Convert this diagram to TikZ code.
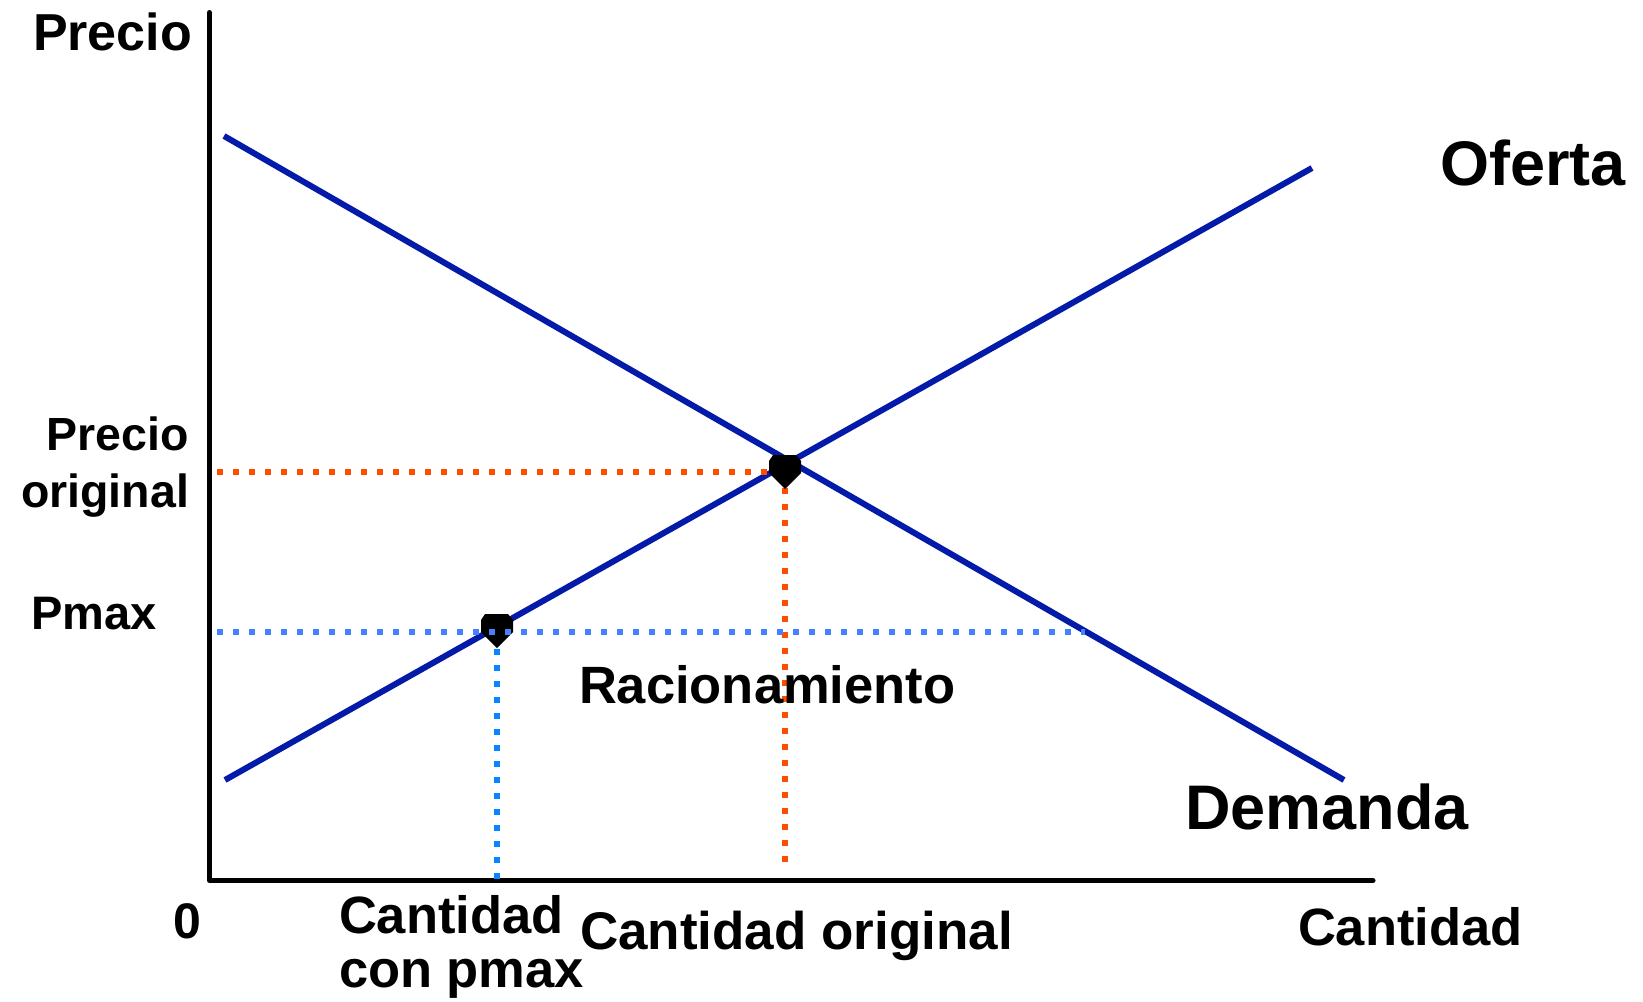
\documentclass[tikz,border=0pt]{standalone}
\usepackage{fontspec}
\setmainfont{Liberation Sans}
\definecolor{curveblue}{RGB}{4,26,168}
\definecolor{dotorange}{RGB}{255,76,0}
\definecolor{dotblueh}{RGB}{70,128,255}
\definecolor{dotbluev}{RGB}{10,132,255}
\tikzset{
  curve/.style={line width=6pt, color=curveblue, line cap=butt},
  axisline/.style={line width=5pt, black, line cap=round, line join=round},
  dotline/.style={line width=6pt, line cap=butt, dash pattern=on 6pt off 10pt},
  lbl/.style={inner sep=0pt, outer sep=0pt, text=black},
  pt/.style={inner sep=0pt, minimum size=0pt},
  mk/.pic={\fill[black] (-12,-17)--(11,-17)--(16,-11)--(16,1)--(0,17)--(-16,1)--(-16,-11)--cycle;}
}
\newcommand{\fsz}[2]{\bfseries\fontsize{#1}{#2}\selectfont}
\begin{document}
\begin{tikzpicture}[x=1pt,y=-1pt]
\useasboundingbox (0,0) rectangle (1643,1001);
\fill[white] (0,0) rectangle (1643,1001);

% coordinates
\coordinate (ytop) at (209.5,12.5);
\coordinate (origin) at (209.5,880.5);
\coordinate (xend) at (1373,880.5);
\coordinate (d1) at (224,136);
\coordinate (d2) at (1344,780);
\coordinate (s1) at (225,780);
\coordinate (s2) at (1312,168);
\node[pt] (eq) at (785,472) {};
\node[pt] (pm) at (497,631) {};
\coordinate (oh1) at (217,472);
\coordinate (ov1) at (785,488);
\coordinate (ov2) at (785,864);
\coordinate (bh1) at (217,632);
\coordinate (bh2) at (1085,632);
\coordinate (bv1) at (497,649);
\coordinate (bv2) at (497,881);

% axes
\draw[axisline] (ytop) -- (origin) -- (xend);

% curves
\draw[curve] (d1) -- (d2);
\draw[curve] (s1) -- (s2);

% orange dotted lines
\draw[dotline, dotorange] (oh1) -- (eq.center);
\draw[dotline, dotorange] (ov1) -- (ov2);

% markers
\pic at (eq) {mk};
\pic at (pm) {mk};

% blue dotted lines
\draw[dotline, dotblueh] (bh1) -- (bh2);
\draw[dotline, dotbluev] (bv1) -- (bv2);

% labels
\node[lbl, anchor=base west, font=\fsz{52}{54}] (lprecio) at (33,50) {Precio};
\node[lbl, anchor=base west, font=\fsz{63}{66}] (loferta) at (1440,185) {Oferta};
\node[lbl, anchor=base east, align=right, font=\fsz{46.5}{57}] (lporig) at (189,507) {Precio\\original};
\node[lbl, anchor=base west, font=\fsz{47}{50}] (lpmax) at (31,629) {Pmax};
\node[lbl, anchor=base west, font=\fsz{52.5}{55}] (lrac) at (579,703) {Racionamiento};
\node[lbl, anchor=base west, font=\fsz{63}{66}] (ldem) at (1185,829) {Demanda};
\node[lbl, anchor=base west, font=\fsz{50}{52}] (lzero) at (173,938) {0};
\node[lbl, anchor=base west, align=left, font=\fsz{52.5}{54}] (lcpmax) at (339,987) {Cantidad\\con pmax};
\node[lbl, anchor=base west, font=\fsz{53}{55}] (lcorig) at (580,949) {Cantidad original};
\node[lbl, anchor=base west, font=\fsz{52.5}{54}] (lcant) at (1298,945) {Cantidad};
\end{tikzpicture}
\end{document}
